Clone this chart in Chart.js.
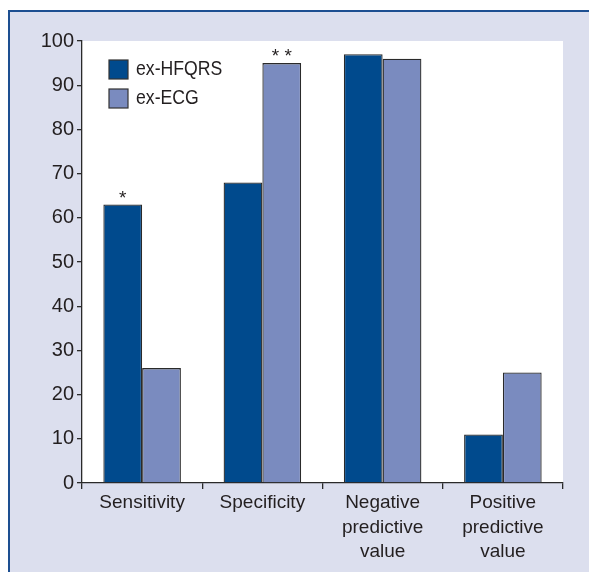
<!DOCTYPE html>
<html>
<head>
<meta charset="utf-8">
<script src="https://cdn.jsdelivr.net/npm/chart.js@4.4.0/dist/chart.umd.min.js"></script>
<style>
  html, body { margin: 0; padding: 0; background: #fff; }
  #wrap { position: relative; width: 589px; height: 572px; overflow: hidden; }
  #frame {
    position: absolute; left: 8px; top: 10px; width: 579px; height: 562px;
    background: #dcdfee;
    border-top: 2px solid #1d4f91;
    border-left: 2px solid #1d4f91;
  }
  canvas { position: absolute; left: 0; top: 0; }
</style>
</head>
<body>
<div id="wrap">
  <div id="frame"></div>
  <canvas id="chart" width="589" height="572"></canvas>
</div>
<script>
  // Datos
  const categories = ['Sensitivity', 'Specificity', ['Negative', 'predictive', 'value'], ['Positive', 'predictive', 'value']];
  const hfqrsValues = [63, 68, 97, 11];
  const ecgValues = [26, 95, 96, 25];
  const hfqrsMarks = ['*', '', '', ''];
  const ecgMarks = ['', '* *', '', ''];
  const yTicks = [0, 10, 20, 30, 40, 50, 60, 70, 80, 90, 100];

  const FONT = "'Liberation Sans', Arial, sans-serif";
  const TEXT = '#231f20';

  // fondo blanco del area del grafico
  const areaBg = {
    id: 'areaBg',
    beforeDraw(chart) {
      const { ctx, chartArea: a } = chart;
      ctx.save();
      ctx.fillStyle = '#ffffff';
      ctx.fillRect(a.left, a.top, a.right - a.left, a.bottom - a.top);
      ctx.restore();
    }
  };

  // asteriscos sobre las barras
  const marksPlugin = {
    id: 'marks',
    afterDatasetsDraw(chart) {
      const ctx = chart.ctx;
      const sets = [hfqrsMarks, ecgMarks];
      ctx.save();
      ctx.font = '19px ' + FONT;
      ctx.fillStyle = TEXT;
      ctx.textAlign = 'center';
      ctx.textBaseline = 'alphabetic';
      sets.forEach((marks, di) => {
        const meta = chart.getDatasetMeta(di);
        marks.forEach((m, i) => {
          if (!m) return;
          const el = meta.data[i];
          ctx.fillText(m, el.x, el.y - 1);
        });
      });
      ctx.restore();
    }
  };

  // leyenda dentro del area
  const legendPlugin = {
    id: 'insideLegend',
    afterDraw(chart) {
      const ctx = chart.ctx;
      const a = chart.chartArea;
      ctx.save();
      ctx.font = '19px ' + FONT;
      ctx.textBaseline = 'middle';
      chart.data.datasets.forEach((ds, i) => {
        const x = a.left + 27;
        const y = a.top + 19 + i * 29;
        ctx.fillStyle = ds.backgroundColor;
        ctx.fillRect(x, y, 19, 19);
        ctx.strokeStyle = '#333';
        ctx.lineWidth = 1.2;
        ctx.strokeRect(x, y, 19, 19);
        ctx.fillStyle = TEXT;
        // letra un poco estrecha, como la original
        ctx.save();
        ctx.translate(x + 27, y + 10);
        ctx.scale(0.93, 1.05);
        ctx.fillText(ds.label, 0, 0);
        ctx.restore();
      });
      ctx.restore();
    }
  };

  const ctx = document.getElementById('chart').getContext('2d');
  const chart = new Chart(ctx, {
    type: 'bar',
    data: {
      labels: categories,
      datasets: [
        {
          label: 'ex-HFQRS',
          data: hfqrsValues,
          backgroundColor: '#004a8d',
          borderColor: '#2a2a2a',
          borderWidth: 1.3,
          borderSkipped: 'bottom',
          categoryPercentage: 0.645,
          barPercentage: 1.0
        },
        {
          label: 'ex-ECG',
          data: ecgValues,
          backgroundColor: '#7a8bbf',
          borderColor: '#2a2a2a',
          borderWidth: 1.3,
          borderSkipped: 'bottom',
          categoryPercentage: 0.645,
          barPercentage: 1.0
        }
      ]
    },
    options: {
      responsive: false,
      animation: false,
      layout: { padding: { left: 0, top: 41, right: 26, bottom: 0 } },
      plugins: {
        legend: { display: false },
        tooltip: { enabled: false }
      },
      scales: {
        x: {
          offset: true,
          grid: {
            offset: true,
            drawOnChartArea: false,
            drawTicks: true,
            tickLength: 6,
            color: '#2a2a2a',
            lineWidth: 1.3
          },
          border: { display: true, color: '#2a2a2a', width: 1.3 },
          ticks: {
            color: TEXT,
            font: { family: FONT, size: 19, lineHeight: 1.28 },
            padding: 2,
            maxRotation: 0,
            autoSkip: false
          },
          afterFit(scale) { scale.height = 89; }
        },
        y: {
          min: 0,
          max: 100,
          afterBuildTicks(scale) { scale.ticks = yTicks.map(v => ({ value: v })); },
          grid: {
            drawOnChartArea: false,
            drawTicks: true,
            tickLength: 5,
            color: '#2a2a2a',
            lineWidth: 1.3
          },
          border: { display: true, color: '#2a2a2a', width: 1.3 },
          ticks: {
            color: TEXT,
            font: { family: FONT, size: 20 },
            padding: 3
          },
          afterFit(scale) { scale.width = 82; }
        }
      }
    },
    plugins: [areaBg, marksPlugin, legendPlugin]
  });
</script>
</body>
</html>
